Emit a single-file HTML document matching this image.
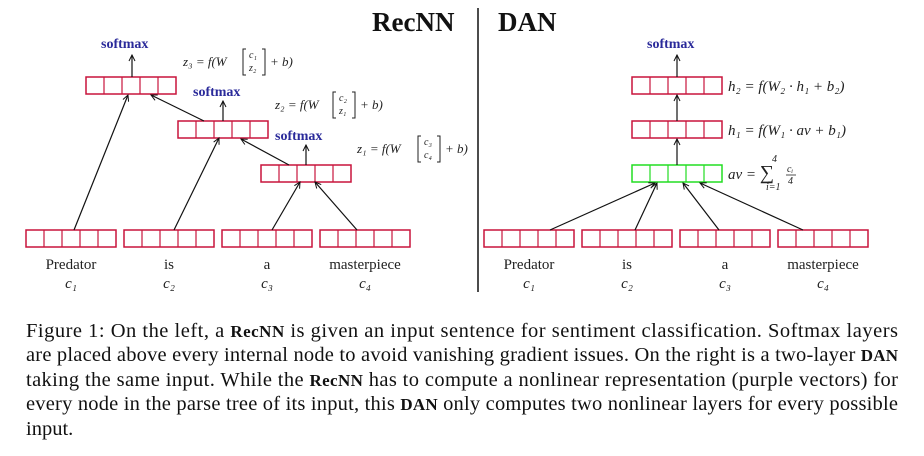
<!DOCTYPE html>
<html><head><meta charset="utf-8"><style>
html,body{margin:0;padding:0;background:#fff;width:924px;height:456px;overflow:hidden}
svg{display:block}
.w{font-family:"Liberation Serif",serif;font-size:15px;fill:#222}
.sm{font-family:"Liberation Serif",serif;font-size:14px;font-weight:bold;fill:#2a2a9a}
.eq{font-family:"Liberation Serif",serif;font-style:italic;font-size:13px;fill:#222}
.eqs{font-family:"Liberation Serif",serif;font-style:italic;font-size:10px;fill:#222}
.eqb{font-family:"Liberation Serif",serif;font-style:italic;font-size:15px;fill:#222}
.cap{font-family:"Liberation Serif",serif;font-size:20.5px;fill:#111}
</style></head><body>
<svg width="924" height="456" viewBox="0 0 924 456" xmlns="http://www.w3.org/2000/svg">
<defs>
<marker id="a" markerWidth="8" markerHeight="8" refX="7" refY="4" orient="auto" markerUnits="userSpaceOnUse">
<path d="M1,1 L7,4 L1,7" fill="none" stroke="#111" stroke-width="1"/></marker>
<g id="bx"><rect x="0" y="0" width="90" height="17" fill="#fff" stroke="#c8143c" stroke-width="1.5"/>
<path d="M18,0V17M36,0V17M54,0V17M72,0V17" stroke="#c8143c" stroke-width="1.2"/></g>
<g id="gx"><rect x="0" y="0" width="90" height="17" fill="#fff" stroke="#22dd22" stroke-width="1.5"/>
<path d="M18,0V17M36,0V17M54,0V17M72,0V17" stroke="#22dd22" stroke-width="1.2"/></g>
<g id="br"><path d="M3,-13 H0 V13 H3 M19,-13 H22 V13 H19" fill="none" stroke="#222" stroke-width="1"/></g>
</defs>
<text x="372" y="31" font-family="Liberation Serif,serif" font-weight="bold" font-size="27" fill="#111">RecNN</text>
<text x="498" y="31" font-family="Liberation Serif,serif" font-weight="bold" font-size="27" fill="#111">DAN</text>
<line x1="478" y1="8" x2="478" y2="292" stroke="#111" stroke-width="1.5"/>
<!-- left -->
<use href="#bx" x="26" y="230"/><use href="#bx" x="124" y="230"/><use href="#bx" x="222" y="230"/><use href="#bx" x="320" y="230"/>
<use href="#bx" x="86" y="77"/><use href="#bx" x="178" y="121"/><use href="#bx" x="261" y="165"/>
<g stroke="#111" stroke-width="1.2" marker-end="url(#a)">
<line x1="132" y1="77" x2="132" y2="55"/><line x1="223" y1="121" x2="223" y2="101"/><line x1="306" y1="165" x2="306" y2="145"/>
<line x1="74" y1="230" x2="128" y2="95"/><line x1="174" y1="230" x2="219" y2="138"/>
<line x1="272" y1="230" x2="300" y2="182"/><line x1="357" y1="230" x2="315" y2="182"/>
<line x1="289" y1="165" x2="241" y2="139"/><line x1="204" y1="121" x2="151" y2="95"/>
</g>
<text class="sm" x="101" y="48">softmax</text><text class="sm" x="193" y="96">softmax</text><text class="sm" x="275" y="140">softmax</text>
<!-- z3 -->
<text class="eq" x="183" y="66">z₃ = f(W</text>
<use href="#br" x="243" y="62"/>
<text class="eqs" x="249" y="58">c₁</text><text class="eqs" x="249" y="71">z₂</text>
<text class="eq" x="270" y="66">+ b)</text>
<!-- z2 -->
<text class="eq" x="275" y="109">z₂ = f(W</text>
<use href="#br" x="333" y="105"/>
<text class="eqs" x="339" y="101">c₂</text><text class="eqs" x="339" y="114">z₁</text>
<text class="eq" x="360" y="109">+ b)</text>
<!-- z1 -->
<text class="eq" x="357" y="153">z₁ = f(W</text>
<use href="#br" x="418" y="149"/>
<text class="eqs" x="424" y="145">c₃</text><text class="eqs" x="424" y="158">c₄</text>
<text class="eq" x="445" y="153">+ b)</text>
<g class="w" text-anchor="middle">
<text x="71" y="269">Predator</text><text x="169" y="269">is</text><text x="267" y="269">a</text><text x="365" y="269">masterpiece</text>
</g>
<g class="eqb" text-anchor="middle">
<text x="71" y="288">c₁</text><text x="169" y="288">c₂</text><text x="267" y="288">c₃</text><text x="365" y="288">c₄</text>
<text x="529" y="288">c₁</text><text x="627" y="288">c₂</text><text x="725" y="288">c₃</text><text x="823" y="288">c₄</text>
</g>
<!-- right -->
<use href="#bx" x="484" y="230"/><use href="#bx" x="582" y="230"/><use href="#bx" x="680" y="230"/><use href="#bx" x="778" y="230"/>
<use href="#bx" x="632" y="77"/><use href="#bx" x="632" y="121"/><use href="#gx" x="632" y="165"/>
<g stroke="#111" stroke-width="1.2" marker-end="url(#a)">
<line x1="677" y1="77" x2="677" y2="55"/><line x1="677" y1="121" x2="677" y2="95"/><line x1="677" y1="165" x2="677" y2="139"/>
<line x1="550" y1="230" x2="655" y2="183"/><line x1="635" y1="230" x2="657" y2="183"/>
<line x1="719" y1="230" x2="683" y2="183"/><line x1="803" y1="230" x2="700" y2="183"/>
</g>
<text class="sm" x="647" y="48">softmax</text>
<text class="eqb" x="728" y="91">h₂ = f(W₂ · h₁ + b₂)</text>
<text class="eqb" x="728" y="135">h₁ = f(W₁ · av + b₁)</text>
<text class="eqb" x="728" y="179">av = <tspan font-size="20" font-style="normal">∑</tspan></text>
<text class="eqs" x="772" y="162" font-size="9">4</text><text class="eqs" x="766" y="190" font-size="9">i=1</text>
<text class="eqs" x="787" y="172" font-size="9">cᵢ</text><line x1="786" y1="175" x2="796" y2="175" stroke="#222" stroke-width="0.8"/><text class="eqs" x="788" y="184" font-size="9">4</text>
<g class="w" text-anchor="middle">
<text x="529" y="269">Predator</text><text x="627" y="269">is</text><text x="725" y="269">a</text><text x="823" y="269">masterpiece</text>
</g>
<!-- caption -->
<text class="cap" x="26" y="337" textLength="872" lengthAdjust="spacing">Figure 1: On the left, a <tspan font-weight="bold" font-size="17">RecNN</tspan> is given an input sentence for sentiment classification. Softmax layers</text>
<text class="cap" x="26" y="361" textLength="872" lengthAdjust="spacing">are placed above every internal node to avoid vanishing gradient issues. On the right is a two-layer <tspan font-weight="bold" font-size="17">DAN</tspan></text>
<text class="cap" x="26" y="386" textLength="872" lengthAdjust="spacing">taking the same input. While the <tspan font-weight="bold" font-size="17">RecNN</tspan> has to compute a nonlinear representation (purple vectors) for</text>
<text class="cap" x="26" y="410" textLength="872" lengthAdjust="spacing">every node in the parse tree of its input, this <tspan font-weight="bold" font-size="17">DAN</tspan> only computes two nonlinear layers for every possible</text>
<text class="cap" x="26" y="435">input.</text>
</svg>
</body></html>
